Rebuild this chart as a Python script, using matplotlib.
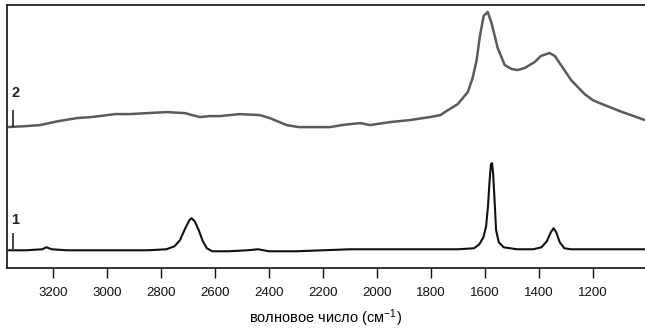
import matplotlib.pyplot as plt

plt.rcParams['font.family'] = ['Liberation Sans', 'DejaVu Sans']
plt.rcParams['mathtext.default'] = 'regular'

# спектр 2 (верхний), волновое число и интенсивность (усл. ед.)
wn2 = [3372, 3300, 3249, 3180, 3112, 3060, 3027, 2970, 2916, 2850, 2778,
       2712, 2656, 2620, 2582, 2508, 2434, 2397, 2334, 2290, 2249, 2174,
       2130, 2100, 2060, 2026, 1952, 1878, 1804, 1764, 1748, 1700, 1663,
       1645, 1630, 1618, 1604, 1589, 1575, 1552, 1526, 1500, 1478, 1452,
       1415, 1392, 1360, 1340, 1320, 1280, 1230, 1200, 1174, 1100, 1006]
int2 = [141, 142, 143, 147, 150, 151, 152, 154, 154, 155, 156,
        155, 151, 152, 152, 154, 153, 150, 143, 141, 141, 141,
        143, 144, 145, 143, 146, 148, 151, 153, 156, 164, 176,
        190, 208, 232, 252, 256, 245, 220, 203, 199, 198, 200,
        206, 212, 215, 212, 204, 188, 174, 168, 165, 157, 148]

# спектр 1 (нижний)
wn1 = [3372, 3300, 3240, 3225, 3205, 3150, 3000, 2900, 2850, 2780, 2750,
       2730, 2710, 2695, 2687, 2675, 2660, 2645, 2630, 2610, 2550, 2480,
       2440, 2400, 2300, 2200, 2100, 2000, 1900, 1800, 1700, 1640, 1620,
       1605, 1595, 1588, 1582, 1577, 1573, 1569, 1564, 1558, 1548, 1530,
       1480, 1420, 1390, 1370, 1355, 1345, 1335, 1322, 1305, 1280, 1200,
       1100, 1006]
int1 = [18, 18, 19, 21, 19, 18, 18, 18, 18, 19, 22,
        28, 40, 48, 50, 47, 38, 27, 20, 17, 17, 18,
        19, 17, 17, 18, 19, 19, 19, 19, 19, 20, 24,
        31, 42, 62, 88, 104, 105, 95, 70, 38, 26, 21,
        19, 19, 21, 27, 36, 40, 36, 26, 20, 19, 19,
        19, 19]

# метки спектров
mark_wn = [3349, 3349]
mark_lo = [141, 19]
mark_hi = [158, 35]
labels = ['2', '1']
label_y = [168, 41]

xticks = [3200, 3000, 2800, 2600, 2400, 2200, 2000, 1800, 1600, 1400, 1200]

fig = plt.figure(figsize=(6.45, 3.28), dpi=100)
ax = fig.add_axes([0.0104, 0.182, 0.9896, 0.802])

ax.plot(wn2, int2, color='#5a5a5a', lw=1.8)
ax.plot(wn1, int1, color='#111111', lw=1.5)

ax.vlines(mark_wn, mark_lo, mark_hi, color='#222222', lw=1.2)
for w, y, s in zip(mark_wn, label_y, labels):
    ax.text(w + 6, y, s, fontsize=10.5, fontweight='bold', color='#222222',
            ha='left', va='bottom')

ax.set_xlim(3372, 1006)
ax.set_ylim(0, 262.7)
ax.set_xticks(xticks)
ax.set_yticks([])
ax.tick_params(axis='x', direction='out', length=7.5, width=1, pad=6,
               labelsize=9.5, colors='#111111')
ax.spines['right'].set_visible(False)
for s in ['left', 'bottom', 'top']:
    ax.spines[s].set_linewidth(1.3)
    ax.spines[s].set_color('#222222')

ax.set_xlabel('волновое число (см$^{-1}$)', fontsize=10.5, color='#000000',
              labelpad=6)

fig.savefig('out.png', dpi=100)
